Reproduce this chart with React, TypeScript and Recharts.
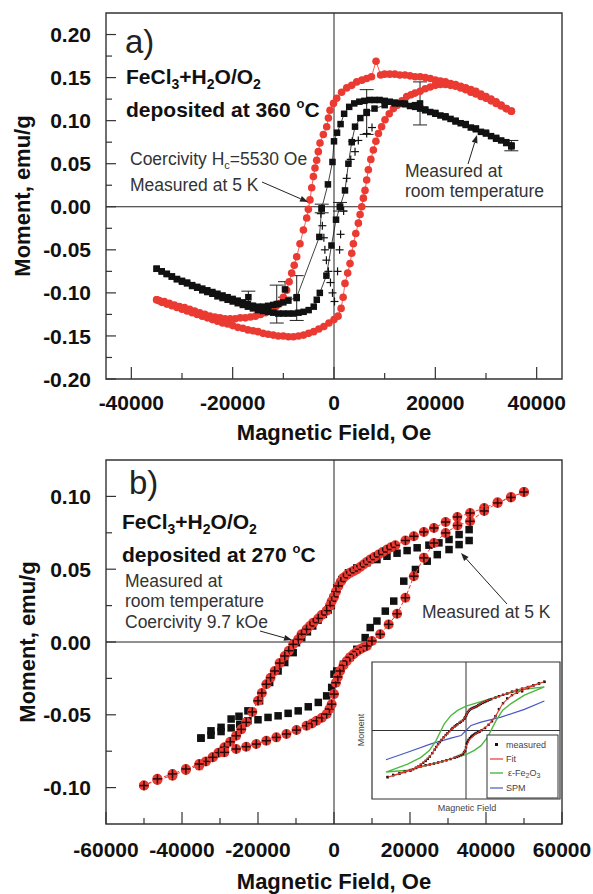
import React from "react";
import {
  ScatterChart,
  Scatter,
  XAxis,
  YAxis,
  ReferenceLine,
  ReferenceArea,
  ErrorBar,
} from "recharts";

const FONT = '"Liberation Sans", Arial, Helvetica, sans-serif';
const RED = "#ea3a32";
const INK = "#111";
const AXIS = "#333";
const NOTE = "#333";

type P = [number, number];

// ---------- panel a: deposited at 360 C ----------
const A_X_TICKS = [-40000, -30000, -20000, -10000, 0, 10000, 20000, 30000, 40000];
const A_Y_TICKS = [
  -0.2, -0.175, -0.15, -0.125, -0.1, -0.075, -0.05, -0.025, 0, 0.025, 0.05, 0.075, 0.1, 0.125, 0.15,
  0.175, 0.2,
];

// 5 K loop (red circles), field swept down then back up
const a5K_down: P[] = [
  [35000, 0.111], [34000, 0.114], [33000, 0.118], [32000, 0.122], [31000, 0.125], [30000, 0.128],
  [29000, 0.131], [28000, 0.134], [27000, 0.136], [26000, 0.138], [25000, 0.14], [24000, 0.142],
  [23000, 0.143], [22000, 0.145], [21000, 0.146], [20000, 0.147], [19000, 0.149], [18000, 0.15],
  [17000, 0.151], [16000, 0.151], [15000, 0.152], [14000, 0.153], [13000, 0.153], [12000, 0.154],
  [11000, 0.154], [10000, 0.154], [9200, 0.153], [8300, 0.169], [7400, 0.151], [6450, 0.149],
  [5500, 0.147], [4480, 0.145], [3500, 0.141], [2510, 0.138], [1500, 0.133], [530, 0.126],
  [-100, 0.12], [-790, 0.112], [-1100, 0.103], [-1440, 0.093], [-2100, 0.084], [-2760, 0.074],
  [-3100, 0.064], [-3420, 0.054], [-3750, 0.045], [-4070, 0.035], [-4400, 0.022], [-4740, 0.008],
  [-5060, -0.003], [-5390, -0.013], [-6040, -0.027], [-6710, -0.043], [-7360, -0.058],
  [-7850, -0.068], [-8350, -0.077], [-8850, -0.087], [-9340, -0.097], [-10000, -0.105],
  [-10660, -0.112], [-11500, -0.116], [-12500, -0.12], [-13500, -0.123], [-14500, -0.125],
  [-15500, -0.127], [-16500, -0.128], [-17500, -0.129], [-18500, -0.129], [-19500, -0.13],
  [-20500, -0.13], [-21500, -0.13], [-22500, -0.129], [-23500, -0.128], [-24500, -0.127],
  [-25500, -0.125], [-26500, -0.123], [-27500, -0.121], [-28500, -0.119], [-29500, -0.117],
  [-30500, -0.116], [-31500, -0.114], [-32500, -0.112], [-33500, -0.11], [-34500, -0.109],
  [-35000, -0.108],
];
const a5K_up: P[] = [
  [-35000, -0.108], [-34000, -0.111], [-33000, -0.113], [-32000, -0.115], [-31000, -0.117],
  [-30000, -0.119], [-29000, -0.121], [-28000, -0.123], [-27000, -0.125], [-26000, -0.127],
  [-25000, -0.129], [-24000, -0.131], [-23000, -0.133], [-22000, -0.135], [-21000, -0.136],
  [-20000, -0.138], [-19000, -0.14], [-18000, -0.141], [-17000, -0.143], [-16000, -0.144],
  [-15000, -0.145], [-14000, -0.147], [-13000, -0.148], [-12000, -0.149], [-11000, -0.15],
  [-10000, -0.15], [-9000, -0.151], [-8000, -0.151], [-7000, -0.15], [-6000, -0.149],
  [-5000, -0.147], [-4000, -0.145], [-3000, -0.142], [-2000, -0.139], [-1000, -0.135],
  [0, -0.131], [800, -0.127], [1400, -0.118], [1800, -0.105], [2170, -0.089], [2700, -0.077],
  [3160, -0.066], [3500, -0.054], [3820, -0.043], [4300, -0.031], [4810, -0.019], [5150, -0.009],
  [5470, 0.0], [5800, 0.01], [6120, 0.019], [6450, 0.031], [6780, 0.043], [7270, 0.055],
  [7770, 0.066], [8270, 0.076], [8770, 0.085], [9400, 0.093], [10070, 0.101], [10900, 0.108],
  [11720, 0.114], [12500, 0.118], [13400, 0.123], [14350, 0.128], [15200, 0.13], [16000, 0.132],
  [17000, 0.134], [18000, 0.137], [19000, 0.139], [20000, 0.141], [21000, 0.142], [22000, 0.142],
  [23000, 0.141], [24000, 0.14], [25000, 0.138], [26000, 0.136], [27000, 0.133], [28000, 0.131],
  [29000, 0.128], [30000, 0.126], [31000, 0.123], [32000, 0.12], [33000, 0.117], [34000, 0.114],
  [35000, 0.111],
];

// room temperature loop (black squares)
const aRT_down: P[] = [
  [35000, 0.07], [34000, 0.074], [33000, 0.077], [32000, 0.079], [31000, 0.082], [30000, 0.085],
  [29000, 0.087], [28000, 0.09], [27000, 0.092], [26000, 0.095], [25000, 0.097], [24000, 0.099],
  [23000, 0.102], [22000, 0.104], [21000, 0.106], [20000, 0.108], [19000, 0.11], [18000, 0.112],
  [17000, 0.114], [16000, 0.116], [15000, 0.117], [14000, 0.119], [13000, 0.12], [12000, 0.121],
  [11000, 0.122], [10000, 0.123], [9000, 0.124], [8000, 0.124], [7000, 0.124], [6000, 0.123],
  [5000, 0.122], [4000, 0.12], [3000, 0.116], [2000, 0.108], [1300, 0.096], [600, 0.086],
  [0, 0.076], [-300, 0.052], [-1200, 0.026], [-2430, -0.002], [-2890, -0.035], [-7360, -0.105],
  [-9000, -0.109], [-10000, -0.111], [-11000, -0.113], [-12000, -0.114], [-13000, -0.115],
  [-14000, -0.116], [-15000, -0.116], [-16000, -0.115], [-17000, -0.113], [-18000, -0.111],
  [-19000, -0.109], [-20000, -0.107], [-21000, -0.105], [-22000, -0.103], [-23000, -0.101],
  [-24000, -0.099], [-25000, -0.097], [-26000, -0.095], [-27000, -0.093], [-28000, -0.091],
  [-29000, -0.088], [-30000, -0.086], [-31000, -0.084], [-32000, -0.081], [-33000, -0.078],
  [-34000, -0.075], [-35000, -0.072],
];
const aRT_up: P[] = [
  [-35000, -0.072], [-34000, -0.075], [-33000, -0.078], [-32000, -0.081], [-31000, -0.084],
  [-30000, -0.087], [-29000, -0.089], [-28000, -0.092], [-27000, -0.094], [-26000, -0.097],
  [-25000, -0.099], [-24000, -0.101], [-23000, -0.104], [-22000, -0.106], [-21000, -0.108],
  [-20000, -0.11], [-19000, -0.112], [-18000, -0.114], [-17000, -0.116], [-16000, -0.118],
  [-15000, -0.12], [-14000, -0.121], [-13000, -0.122], [-12000, -0.123], [-11000, -0.124],
  [-10000, -0.124], [-9000, -0.124], [-8000, -0.124], [-7000, -0.123], [-6000, -0.122],
  [-5000, -0.12], [-4000, -0.116], [-3400, -0.108], [-2800, -0.1], [-1500, -0.08], [-500, -0.045],
  [400, -0.015], [1180, 0.0], [2170, 0.019], [2840, 0.05], [3500, 0.075], [4150, 0.093],
  [5200, 0.103], [6450, 0.109], [8000, 0.114], [10000, 0.118], [12000, 0.12], [14000, 0.12],
  [16000, 0.118], [18000, 0.113], [20000, 0.109], [22000, 0.105], [24000, 0.1], [26000, 0.096],
  [28000, 0.091], [30000, 0.086], [32000, 0.08], [34000, 0.075], [35000, 0.071],
];
// second room temperature sweep drawn with "+" marks
const aRT_plus: P[] = [
  [-2600, -0.008], [-2300, -0.022], [-2000, -0.036], [-1800, -0.05], [-1500, -0.062],
  [-1100, -0.075], [-700, -0.088], [-300, -0.1], [100, -0.11], [700, -0.075], [1100, -0.05],
  [1300, -0.032], [1900, -0.005], [2500, 0.033], [3300, 0.055], [4150, 0.064], [3600, 0.076],
  [4800, 0.077], [6450, 0.085], [7500, 0.092],
];
// points carrying error bars: field, moment, error
const aRT_err: [number, number, number][] = [
  [35000, 0.071, 0.006], [16980, 0.12, 0.025], [6450, 0.11, 0.026], [1180, 0.0, 0.005],
  [-2430, -0.002, 0.005], [-7360, -0.106, 0.026], [-9670, -0.096, 0.009], [-11300, -0.113, 0.022],
  [-16900, -0.105, 0.007],
];

// ---------- panel b: deposited at 270 C ----------
const B_X_TICKS = [
  -60000, -50000, -40000, -30000, -20000, -10000, 0, 10000, 20000, 30000, 40000, 50000, 60000,
];
const B_Y_TICKS = [-0.1, -0.075, -0.05, -0.025, 0, 0.025, 0.05, 0.075, 0.1];

// room temperature loop (red circles with +)
const bRT_down: P[] = [
  [50000, 0.103], [46570, 0.0996], [43050, 0.0959], [39530, 0.092], [35820, 0.0886],
  [32470, 0.0859], [29370, 0.0824], [26300, 0.0783], [23650, 0.0756], [21010, 0.0726],
  [18800, 0.0697], [16140, 0.0664], [15000, 0.065], [13940, 0.0635], [12800, 0.0618],
  [11750, 0.0601], [10600, 0.0584], [9530, 0.0566], [8600, 0.0549], [7780, 0.0532],
  [6900, 0.0515], [6000, 0.0498], [5100, 0.0487], [4230, 0.0475], [3300, 0.0458], [2490, 0.0441],
  [1800, 0.0415], [1160, 0.0385], [500, 0.0345], [0, 0.031], [-610, 0.028], [-1060, 0.025],
  [-1930, 0.0215], [-3250, 0.0185], [-4130, 0.0162], [-5450, 0.0133], [-6350, 0.011],
  [-7220, 0.0087], [-8550, 0.0053], [-9420, 0.0018], [-10740, -0.0016], [-11900, -0.006],
  [-12960, -0.0096], [-14300, -0.0145], [-15610, -0.0199], [-16700, -0.0245], [-17810, -0.029],
  [-19000, -0.035], [-20000, -0.0404], [-21500, -0.048], [-23100, -0.0552], [-24400, -0.06],
  [-25750, -0.0644], [-27300, -0.0685], [-28840, -0.0723], [-30400, -0.076], [-31910, -0.0792],
  [-33700, -0.082], [-35460, -0.0849], [-38980, -0.0879], [-42500, -0.0918], [-46470, -0.0947],
  [-50010, -0.0986],
];
const bRT_up: P[] = [
  [-50010, -0.0986], [-46470, -0.094], [-42500, -0.0906], [-38980, -0.0872], [-35460, -0.0838],
  [-31910, -0.0792], [-28840, -0.0758], [-25750, -0.0735], [-23100, -0.0719], [-20450, -0.0701],
  [-17810, -0.0678], [-15160, -0.0655], [-12520, -0.0632], [-9870, -0.0605], [-7220, -0.0575],
  [-5800, -0.056], [-4580, -0.0541], [-3200, -0.052], [-1930, -0.0495], [-1200, -0.046],
  [-610, -0.0427], [0, -0.0358], [500, -0.028], [1000, -0.024], [1590, -0.0199], [2500, -0.016],
  [3360, -0.013], [4200, -0.0105], [5130, -0.0084], [6000, -0.0065], [6880, -0.005],
  [7800, -0.0037], [8650, -0.0027], [9980, 0.0007], [12170, 0.0053], [14390, 0.0121],
  [16590, 0.0194], [18790, 0.0304], [21010, 0.0452], [23650, 0.0578], [26300, 0.068],
  [29370, 0.0749], [32500, 0.08], [35820, 0.0829], [39530, 0.09], [43050, 0.0955],
  [46570, 0.0993], [50000, 0.103],
];

// 5 K loop (black squares)
const b5K_down: P[] = [
  [35560, 0.0772], [32920, 0.0738], [30270, 0.0704], [27620, 0.0681], [24980, 0.0665],
  [21880, 0.0647], [19240, 0.0628], [16590, 0.061], [13940, 0.0589], [11300, 0.0566],
  [8650, 0.0544], [6000, 0.0509], [3810, 0.0475], [2040, 0.0429], [710, 0.0372], [-160, 0.0304],
  [-700, 0.025], [-1500, 0.022], [-2800, 0.019], [-4200, 0.015], [-5600, 0.011], [-7000, 0.007],
  [-8500, 0.003], [-9870, -0.0005], [-10740, -0.0073], [-12960, -0.0141], [-14710, -0.0199],
  [-16930, -0.0278], [-19580, -0.0404], [-22650, -0.0473], [-25000, -0.051], [-27070, -0.0529],
  [-29720, -0.0586], [-32370, -0.061], [-35010, -0.066],
];
const b5K_up: P[] = [
  [-35010, -0.066], [-32370, -0.064], [-29720, -0.0615], [-27070, -0.059], [-24800, -0.0565],
  [-22650, -0.0541], [-20000, -0.0534], [-17360, -0.0518], [-14710, -0.0507], [-12070, -0.049],
  [-9420, -0.0473], [-6770, -0.0445], [-4130, -0.0415], [-1930, -0.037], [-610, -0.0312],
  [0, -0.0221], [710, -0.0199], [2490, -0.0153], [4230, -0.0107], [6000, -0.005], [8200, 0.003],
  [9530, 0.0099], [11300, 0.0144], [13500, 0.0212], [15720, 0.0281], [18360, 0.0418],
  [21430, 0.0498], [24530, 0.0555], [27180, 0.06], [30270, 0.0635], [32920, 0.0669],
  [35560, 0.0697],
];

// ---------- inset ----------
const IN_X_TICKS = [-52500, -35000, -17500, 0, 17500, 35000, 52500];
const IN_Y_TICKS = [-0.1, -0.05, 0, 0.05, 0.1];
const fit_down: P[] = [
  [50000, 0.103], [40000, 0.093], [30000, 0.083], [20000, 0.071], [12000, 0.062], [6000, 0.05],
  [2500, 0.044], [1000, 0.038], [0, 0.031], [-2000, 0.022], [-5500, 0.013], [-9500, 0.002],
  [-13000, -0.01], [-17800, -0.029], [-23000, -0.055], [-28800, -0.072], [-35000, -0.084],
  [-42500, -0.092], [-50000, -0.099],
];
const fit_up: P[] = [
  [-50000, -0.099], [-40000, -0.088], [-30000, -0.077], [-20000, -0.07], [-12500, -0.063],
  [-6000, -0.056], [-2500, -0.05], [-1000, -0.045], [0, -0.036], [2000, -0.02], [5500, -0.009],
  [10000, 0.001], [14400, 0.012], [18800, 0.03], [23600, 0.058], [29400, 0.075], [36000, 0.085],
  [43000, 0.095], [50000, 0.103],
];
const eps_down: P[] = [
  [50030, 0.0923], [37260, 0.0873], [28740, 0.0802], [15970, 0.0675], [7450, 0.0589],
  [0, 0.0518], [-5320, 0.0426], [-9580, 0.032], [-13840, 0.0142], [-15970, 0.0],
  [-19160, -0.0213], [-23420, -0.0426], [-28740, -0.0568], [-37260, -0.071], [-51100, -0.088],
];
const eps_up: P[] = [
  [-51100, -0.088], [-37260, -0.084], [-28740, -0.077], [-15970, -0.066], [-7450, -0.058],
  [0, -0.051], [5320, -0.042], [9580, -0.032], [13840, -0.014], [15970, 0.0], [19160, 0.021],
  [23420, 0.043], [28740, 0.057], [37260, 0.075], [50030, 0.0923],
];
const spm: P[] = [
  [-51100, -0.0618], [-37260, -0.046], [-22350, -0.0284], [-9580, -0.0163], [-3190, -0.0107],
  [0, 0.0], [3190, 0.0107], [9580, 0.0178], [22350, 0.0284], [37260, 0.0447], [50030, 0.0625],
];

const pts = (a: P[]) => a.map(([x, y]) => ({ x, y }));
const errPts = aRT_err.map(([x, y, e]) => ({ x, y, e }));

// ---------- marks ----------
const RedDot = (p: any) => <circle cx={p.cx} cy={p.cy} r={3.8} fill={RED} />;
const Square = (s: number) => (p: any) =>
  <rect x={p.cx - s / 2} y={p.cy - s / 2} width={s} height={s} fill={INK} />;
const Plus = (p: any) => (
  <g stroke={INK} strokeWidth={1.2}>
    <line x1={p.cx - 4} x2={p.cx + 4} y1={p.cy} y2={p.cy} />
    <line x1={p.cx} x2={p.cx} y1={p.cy - 4} y2={p.cy + 4} />
  </g>
);
const RedPlus = (p: any) => (
  <g>
    <circle cx={p.cx} cy={p.cy} r={5} fill={RED} />
    <g stroke="#2a0808" strokeWidth={1.5}>
      <line x1={p.cx - 4.5} x2={p.cx + 4.5} y1={p.cy} y2={p.cy} />
      <line x1={p.cx} x2={p.cx} y1={p.cy - 4.5} y2={p.cy + 4.5} />
    </g>
  </g>
);
const Nothing = () => <g />;
const TinyDot = (p: any) => <rect x={p.cx - 1.2} y={p.cy - 1.2} width={2.4} height={2.4} fill={INK} />;

// ticks drawn inward, labels only on majors
const xTick = (labelDy: number) => (props: any) => {
  const { x, y, payload } = props;
  const v = payload.value as number;
  const major = v % 20000 === 0;
  return (
    <g>
      <line x1={x} x2={x} y1={y} y2={y - (major ? 12 : 6)} stroke={AXIS} strokeWidth={1.2} />
      {major && (
        <text x={x} y={y + labelDy} textAnchor="middle" fontFamily={FONT} fontWeight="bold" fontSize={21} fill={INK}>
          {v}
        </text>
      )}
    </g>
  );
};
const yTick = (props: any) => {
  const { x, y, payload } = props;
  const v = payload.value as number;
  const major = Math.abs(v * 20 - Math.round(v * 20)) < 1e-6;
  return (
    <g>
      <line x1={x} x2={x + (major ? 10 : 6)} y1={y} y2={y} stroke={AXIS} strokeWidth={1.2} />
      {major && (
        <text x={x - 15} y={y} dy="0.36em" textAnchor="end" fontFamily={FONT} fontWeight="bold" fontSize={21} fill={INK}>
          {v.toFixed(2)}
        </text>
      )}
    </g>
  );
};
const inXTick = (props: any) => (
  <line x1={props.x} x2={props.x} y1={props.y} y2={props.y - 4} stroke={AXIS} strokeWidth={0.8} />
);
const inYTick = (props: any) => (
  <line x1={props.x} x2={props.x + 4} y1={props.y} y2={props.y} stroke={AXIS} strokeWidth={0.8} />
);

const axisCommon = { tickLine: false, axisLine: false, tickSize: 0, tickMargin: 0, interval: 0 as const, allowDataOverflow: true };

function Arrow({ x1, y1, x2, y2 }: { x1: number; y1: number; x2: number; y2: number }) {
  const a = Math.atan2(y2 - y1, x2 - x1);
  const L = 8, W = 3;
  const bx = x2 - L * Math.cos(a), by = y2 - L * Math.sin(a);
  const head = `${x2},${y2} ${bx + W * Math.sin(a)},${by - W * Math.cos(a)} ${bx - W * Math.sin(a)},${by + W * Math.cos(a)}`;
  return (
    <g>
      <line x1={x1} y1={y1} x2={bx} y2={by} stroke="#222" strokeWidth={1} />
      <polygon points={head} fill="#222" />
    </g>
  );
}

function Formula({ x, y, deg }: { x: number; y: number; deg: string }) {
  return (
    <>
      <text x={x} y={y} fontFamily={FONT} fontWeight="bold" fontSize={21} fill={INK}>
        FeCl<tspan dy={5} fontSize={14}>3</tspan>
        <tspan dy={-5}>+H</tspan>
        <tspan dy={5} fontSize={14}>2</tspan>
        <tspan dy={-5}>O/O</tspan>
        <tspan dy={5} fontSize={14}>2</tspan>
      </text>
      <text x={x} y={y + 33} fontFamily={FONT} fontWeight="bold" fontSize={21} fill={INK}>
        deposited at {deg} <tspan dy={-9} fontSize={13}>o</tspan>
        <tspan dy={9}>C</tspan>
      </text>
    </>
  );
}

function PanelA() {
  return (
    <div style={{ position: "absolute", left: 0, top: 0 }}>
      <ScatterChart width={593} height={447} margin={{ top: 13, right: 31, bottom: 8, left: 16 }}>
        <XAxis type="number" dataKey="x" domain={[-45000, 45000]} ticks={A_X_TICKS} tick={xTick(31)} height={60} {...axisCommon} />
        <YAxis type="number" dataKey="y" domain={[-0.2, 0.225]} ticks={A_Y_TICKS} tick={yTick} width={90} {...axisCommon} />
        <ReferenceLine x={0} stroke="#222" strokeWidth={1} />
        <ReferenceLine y={0} stroke="#222" strokeWidth={1} />
        <Scatter data={pts([...a5K_down, ...a5K_up])} shape={RedDot} line={{ stroke: RED, strokeWidth: 0.8 }} isAnimationActive={false} />
        <Scatter data={pts([...aRT_down, ...aRT_up])} shape={Square(6.5)} line={{ stroke: INK, strokeWidth: 0.8 }} isAnimationActive={false} />
        <Scatter data={pts(aRT_plus)} shape={Plus} isAnimationActive={false} />
        <Scatter data={errPts} shape={Square(6.5)} isAnimationActive={false}>
          <ErrorBar dataKey="e" direction="y" width={7} stroke="#222" strokeWidth={1} />
        </Scatter>
        <ReferenceArea x1={-45000} x2={45000} y1={-0.2} y2={0.225} fill="none" stroke={AXIS} strokeWidth={1.4} />
      </ScatterChart>
    </div>
  );
}

function PanelB() {
  return (
    <div style={{ position: "absolute", left: 0, top: 447 }}>
      <ScatterChart width={593} height={447} margin={{ top: 13, right: 31, bottom: 10, left: 16 }}>
        <XAxis type="number" dataKey="x" domain={[-60000, 60000]} ticks={B_X_TICKS} tick={xTick(33)} height={60} {...axisCommon} />
        <YAxis type="number" dataKey="y" domain={[-0.125, 0.125]} ticks={B_Y_TICKS} tick={yTick} width={90} {...axisCommon} />
        <ReferenceLine x={0} stroke="#222" strokeWidth={1} />
        <ReferenceLine y={0} stroke="#222" strokeWidth={1} />
        <Scatter data={pts(b5K_down)} shape={Square(7.5)} isAnimationActive={false} />
        <Scatter data={pts(b5K_up)} shape={Square(7.5)} isAnimationActive={false} />
        <Scatter
          data={pts([...bRT_down, ...bRT_up])}
          shape={RedPlus}
          line={{ stroke: RED, strokeWidth: 1, strokeDasharray: "4 2" }}
          isAnimationActive={false}
        />
        <ReferenceArea x1={-60000} x2={60000} y1={-0.125} y2={0.125} fill="none" stroke={AXIS} strokeWidth={1.4} />
      </ScatterChart>
    </div>
  );
}

function Inset() {
  return (
    <div style={{ position: "absolute", left: 371, top: 661, background: "#fff" }}>
      <ScatterChart width={190} height={139} margin={{ top: 1, right: 1, bottom: 1, left: 1 }}>
        <XAxis type="number" dataKey="x" domain={[-60000, 60000]} ticks={IN_X_TICKS} tick={inXTick} height={0} {...axisCommon} />
        <YAxis type="number" dataKey="y" domain={[-0.145, 0.145]} ticks={IN_Y_TICKS} tick={inYTick} width={0} {...axisCommon} />
        <ReferenceLine x={0} stroke="#333" strokeWidth={1} />
        <ReferenceLine y={0} stroke="#333" strokeWidth={1} />
        <Scatter data={pts(spm)} shape={Nothing} line={{ stroke: "#4a58c4", strokeWidth: 1.2 }} isAnimationActive={false} />
        <Scatter data={pts([...eps_down, ...eps_up])} shape={Nothing} line={{ stroke: "#4cb840", strokeWidth: 1.4 }} isAnimationActive={false} />
        <Scatter data={pts([...bRT_down, ...bRT_up])} shape={TinyDot} isAnimationActive={false} />
        <Scatter data={pts([...fit_down, ...fit_up])} shape={Nothing} line={{ stroke: "#e8352c", strokeWidth: 1.1 }} isAnimationActive={false} />
        <ReferenceArea x1={-60000} x2={60000} y1={-0.145} y2={0.145} fill="none" stroke={AXIS} strokeWidth={1.2} />
      </ScatterChart>
    </div>
  );
}

function Overlay() {
  const note = { fontFamily: FONT, fontSize: 17.5, fill: NOTE };
  const small = { fontFamily: FONT, fontSize: 9, fill: "#444" };
  const title = { fontFamily: FONT, fontWeight: "bold" as const, fontSize: 22, fill: INK, textAnchor: "middle" as const };
  return (
    <svg width={593} height={894} style={{ position: "absolute", left: 0, top: 0, pointerEvents: "none" }}>
      {/* panel a */}
      <text x={125} y={53} fontFamily={FONT} fontSize={33} fill="#222">a)</text>
      <Formula x={126} y={84} deg="360" />
      <text x={130} y={165} {...note}>
        Coercivity H<tspan dy={4} fontSize={11}>c</tspan>
        <tspan dy={-4}>=5530 Oe</tspan>
      </text>
      <text x={130} y={191} {...note}>Measured at 5 K</text>
      <Arrow x1={262} y1={182} x2={308} y2={202} />
      <text x={405} y={177} {...note}>Measured at</text>
      <text x={405} y={197} {...note}>room temperature</text>
      <Arrow x1={468} y1={164} x2={477} y2={135} />
      <text {...title} x={334} y={440}>Magnetic Field, Oe</text>
      <text {...title} transform="translate(22,196) rotate(-90)" dy="0.36em">Moment, emu/g</text>

      {/* panel b */}
      <text x={129} y={494} fontFamily={FONT} fontSize={33} fill="#222">b)</text>
      <Formula x={122} y={529} deg="270" />
      <text x={125} y={587} {...note}>Measured at</text>
      <text x={125} y={607} {...note}>room temperature</text>
      <text x={125} y={628} {...note}>Coercivity 9.7 kOe</text>
      <Arrow x1={260} y1={631} x2={292} y2={640} />
      <text x={422} y={618} {...note}>Measured at 5 K</text>
      <Arrow x1={507} y1={604} x2={461} y2={553} />
      <text {...title} x={334} y={889}>Magnetic Field, Oe</text>
      <text {...title} transform="translate(27,642) rotate(-90)" dy="0.36em">Moment, emu/g</text>

      {/* inset labels and legend */}
      <text {...small} transform="translate(361,730) rotate(-90)" textAnchor="middle" dy="0.35em">Moment</text>
      <text {...small} x={467} y={811} textAnchor="middle">Magnetic Field</text>
      <rect x={487} y={735} width={71} height={63} fill="#fff" stroke="#333" strokeWidth={1} />
      <rect x={495} y={743} width={3} height={3} fill={INK} />
      <text {...small} x={506} y={748}>measured</text>
      <line x1={490} x2={503} y1={759} y2={759} stroke="#e8352c" strokeWidth={1.2} />
      <text {...small} x={506} y={762}>Fit</text>
      <line x1={490} x2={503} y1={773} y2={773} stroke="#4cb840" strokeWidth={1.4} />
      <text {...small} x={508} y={776}>
        ε-Fe<tspan dy={2} fontSize={7}>2</tspan>
        <tspan dy={-2}>O</tspan>
        <tspan dy={2} fontSize={7}>3</tspan>
      </text>
      <line x1={490} x2={503} y1={788} y2={788} stroke="#4a58c4" strokeWidth={1.2} />
      <text {...small} x={506} y={791}>SPM</text>
    </svg>
  );
}

export default function App() {
  return (
    <div style={{ position: "absolute", left: 0, top: 0, width: 593, height: 894, background: "#fff", overflow: "hidden" }}>
      <PanelA />
      <PanelB />
      <Inset />
      <Overlay />
    </div>
  );
}
